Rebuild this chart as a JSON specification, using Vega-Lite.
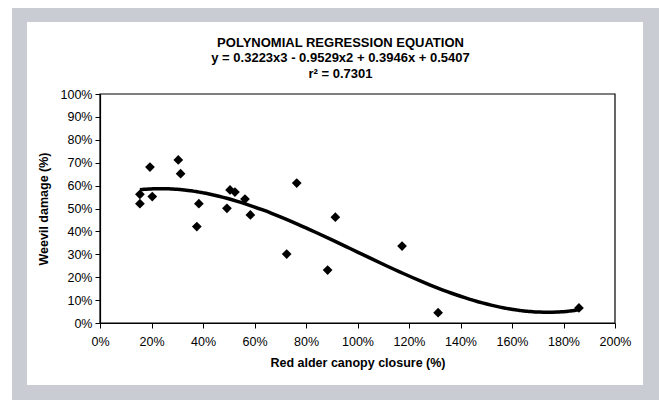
{
  "$schema": "https://vega.github.io/schema/vega-lite/v6.json",
  "width": 515,
  "height": 229,
  "autosize": {"type": "none"},
  "padding": {"left": 100, "top": 94, "right": 44, "bottom": 86},
  "background": "white",
  "title": {
    "text": ["POLYNOMIAL REGRESSION EQUATION", "y = 0.3223x3 - 0.9529x2 + 0.3946x + 0.5407", "r² = 0.7301"],
    "anchor": "middle",
    "frame": "group",
    "font": "Liberation Sans",
    "fontSize": 13,
    "fontWeight": "bold",
    "lineHeight": 15.5,
    "color": "black",
    "offset": -72.5,
    "dx": -17,
    "zindex": 2
  },
  "datasets": {
    "panels": [
      {"x0": -0.3417, "x1": 2.1709, "y0": -0.3362, "y1": 1.3755, "kind": "outer"},
      {"x0": -0.2835, "x1": 2.1087, "y0": -0.2707, "y1": 1.3144, "kind": "inner"}
    ],
    "frame": [{"x0": 0, "x1": 2, "y0": 0, "y1": 1}],
    "points": [
      {"x": 0.155, "y": 0.562},
      {"x": 0.155, "y": 0.521},
      {"x": 0.194, "y": 0.681},
      {"x": 0.203, "y": 0.552},
      {"x": 0.304, "y": 0.712},
      {"x": 0.313, "y": 0.652},
      {"x": 0.376, "y": 0.421},
      {"x": 0.384, "y": 0.521},
      {"x": 0.493, "y": 0.501},
      {"x": 0.505, "y": 0.581},
      {"x": 0.524, "y": 0.572},
      {"x": 0.563, "y": 0.541},
      {"x": 0.584, "y": 0.472},
      {"x": 0.725, "y": 0.301},
      {"x": 0.764, "y": 0.611},
      {"x": 0.884, "y": 0.231},
      {"x": 0.914, "y": 0.462},
      {"x": 1.173, "y": 0.336},
      {"x": 1.313, "y": 0.045},
      {"x": 1.860, "y": 0.066}
    ]
  },
  "resolve": {"scale": {"x": "shared", "y": "shared"}},
  "layer": [
    {
      "data": {"name": "panels"},
      "mark": {"type": "rect", "clip": false, "strokeWidth": 0},
      "encoding": {
        "x": {
          "field": "x0", "type": "quantitative",
          "scale": {"domain": [0, 2], "nice": false},
          "axis": {
            "title": "Red alder canopy closure (%)",
            "tickCount": 10,
            "format": ".0%",
            "grid": false,
            "labelOverlap": false,
            "labelFlush": false,
            "zindex": 1
          }
        },
        "x2": {"field": "x1"},
        "y": {
          "field": "y0", "type": "quantitative",
          "scale": {"domain": [0, 1], "nice": false},
          "axis": {
            "title": "Weevil damage (%)",
            "tickCount": 10,
            "format": ".0%",
            "grid": false,
            "labelOverlap": false,
            "labelFlush": false,
            "zindex": 1
          }
        },
        "y2": {"field": "y1"},
        "color": {"field": "kind", "type": "nominal", "scale": {"domain": ["outer", "inner"], "range": ["#c9ccd3", "#ffffff"]}, "legend": null}
      }
    },
    {
      "data": {"name": "frame"},
      "mark": {"type": "rect", "clip": false, "fill": null, "fillOpacity": 0, "stroke": "black", "strokeWidth": 1.2},
      "encoding": {
        "x": {"field": "x0", "type": "quantitative"},
        "x2": {"field": "x1"},
        "y": {"field": "y0", "type": "quantitative"},
        "y2": {"field": "y1"}
      }
    },
    {
      "data": {"name": "points"},
      "mark": {"type": "point", "shape": "diamond", "filled": true, "color": "black", "size": 95, "opacity": 1},
      "encoding": {
        "x": {"field": "x", "type": "quantitative"},
        "y": {"field": "y", "type": "quantitative"}
      }
    },
    {
      "data": {"name": "points"},
      "transform": [
        {"regression": "y", "on": "x", "method": "poly", "order": 3, "extent": [0.155, 1.86]}
      ],
      "mark": {"type": "line", "color": "black", "strokeWidth": 3.5, "interpolate": "monotone"},
      "encoding": {
        "x": {"field": "x", "type": "quantitative"},
        "y": {"field": "y", "type": "quantitative"}
      }
    }
  ],
  "config": {
    "view": {"stroke": null},
    "axis": {
      "labelFont": "Liberation Sans",
      "labelFontSize": 12.5,
      "labelColor": "black",
      "titleFont": "Liberation Sans",
      "titleFontSize": 12.5,
      "titleFontWeight": "bold",
      "titleColor": "black",
      "domainColor": "black",
      "domainWidth": 1.2,
      "tickColor": "black",
      "tickSize": 5,
      "tickWidth": 1
    },
    "axisX": {"labelPadding": 7, "titlePadding": 9},
    "axisY": {"labelPadding": 3, "titlePadding": 10}
  }
}
